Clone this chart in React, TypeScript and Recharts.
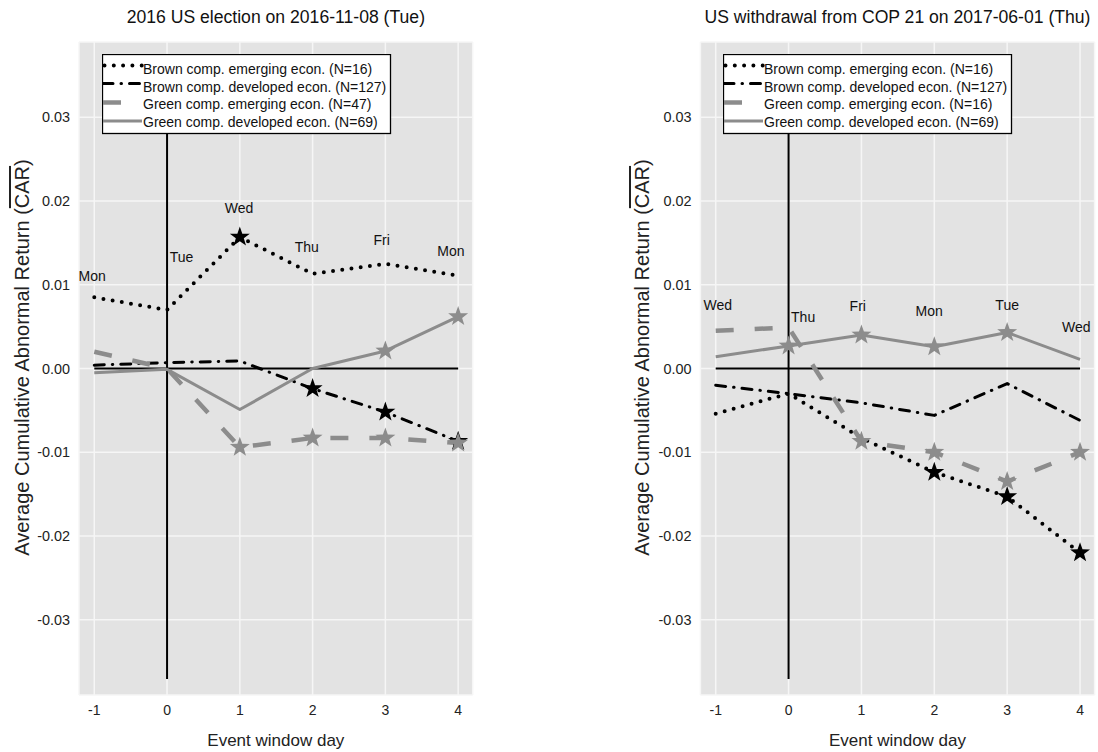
import React from 'react';
import { ComposedChart, Line, Scatter, XAxis, YAxis, CartesianGrid, ReferenceLine } from 'recharts';

const FONT = '"Liberation Sans", Arial, Helvetica, sans-serif';

// ---------- data ----------
const days = [-1, 0, 1, 2, 3, 4];
const xTicks = [-1, 0, 1, 2, 3, 4];
const yTicks = [-0.03, -0.02, -0.01, 0, 0.01, 0.02, 0.03];

// Panel 1: 2016 US election
const electionTitle = '2016 US election on 2016-11-08 (Tue)';
const electionBrownEmerging = [0.0085, 0.007, 0.0157, 0.0113, 0.0125, 0.0111];
const electionBrownDeveloped = [0.0004, 0.0007, 0.0009, -0.0024, -0.0052, -0.0087];
const electionGreenEmerging = [0.002, 0.0, -0.0094, -0.0083, -0.0083, -0.0089];
const electionGreenDeveloped = [-0.0005, -0.0001, -0.0049, 0.0, 0.0021, 0.0062];
const electionBrownEmergingStars = [false, false, true, false, false, false];
const electionBrownDevelopedStars = [false, false, false, true, true, true];
const electionGreenEmergingStars = [false, false, true, true, true, true];
const electionGreenDevelopedStars = [false, false, false, false, true, true];
const electionLegend = [
  'Brown comp. emerging econ. (N=16)',
  'Brown comp. developed econ. (N=127)',
  'Green comp. emerging econ. (N=47)',
  'Green comp. developed econ. (N=69)',
];
const electionDayNames = ['Mon', 'Tue', 'Wed', 'Thu', 'Fri', 'Mon'];
const electionDayX = [-1.03, 0.2, 0.99, 1.92, 2.95, 3.9];
const electionDayY = [0.011, 0.0133, 0.0192, 0.0145, 0.0154, 0.014];

// Panel 2: US withdrawal from COP 21
const copTitle = 'US withdrawal from COP 21 on 2017-06-01 (Thu)';
const copBrownEmerging = [-0.0054, -0.003, -0.0083, -0.0124, -0.0153, -0.022];
const copBrownDeveloped = [-0.002, -0.003, -0.0041, -0.0056, -0.0018, -0.0062];
const copGreenEmerging = [0.0045, 0.0049, -0.0087, -0.01, -0.0135, -0.01];
const copGreenDeveloped = [0.0014, 0.0027, 0.004, 0.0026, 0.0043, 0.0011];
const copBrownEmergingStars = [false, false, false, true, true, true];
const copBrownDevelopedStars = [false, false, false, false, false, false];
const copGreenEmergingStars = [false, false, true, true, true, true];
const copGreenDevelopedStars = [false, true, true, true, true, false];
const copLegend = [
  'Brown comp. emerging econ. (N=16)',
  'Brown comp. developed econ. (N=127)',
  'Green comp. emerging econ. (N=16)',
  'Green comp. developed econ. (N=69)',
];
const copDayNames = ['Wed', 'Thu', 'Fri', 'Mon', 'Tue', 'Wed'];
const copDayX = [-0.97, 0.2, 0.95, 1.93, 3.0, 3.95];
const copDayY = [0.0076, 0.0061, 0.0075, 0.0069, 0.0076, 0.0049];

// ---------- styles ----------
const GRAY = '#8c8c8c';
const seriesStyles = [
  { color: '#000', width: 4, dash: '0 9.3', cap: 'round' as const },
  { color: '#000', width: 3, dash: '10 8 0.5 8', cap: 'round' as const },
  { color: GRAY, width: 4.5, dash: '18 21', cap: 'butt' as const },
  { color: GRAY, width: 3, dash: undefined, cap: 'butt' as const },
];

const X_DOMAIN: [number, number] = [-1.21, 4.2];
const Y_DOMAIN: [number, number] = [-0.039, 0.039];

function starPath(cx: number, cy: number, R: number, r: number) {
  let d = '';
  for (let i = 0; i < 10; i++) {
    const rad = i % 2 === 0 ? R : r;
    const a = -Math.PI / 2 + (i * Math.PI) / 5;
    d += (i === 0 ? 'M' : 'L') + (cx + rad * Math.cos(a)).toFixed(2) + ',' + (cy + rad * Math.sin(a)).toFixed(2);
  }
  return d + 'Z';
}

const makeDot = (stars: boolean[], color: string, tag: string) => (props: any) => {
  const { cx, cy, index } = props;
  if (!stars[index] || cx == null || cy == null) return <g key={`${tag}-n-${index}`} />;
  return <path key={`${tag}-s-${index}`} d={starPath(cx, cy, 10.5, 4.2)} fill={color} stroke="none" />;
};

function YLabel(props: any) {
  const vb = props.viewBox || { x: 0, y: 42, width: 80, height: 653 };
  const cx = vb.x + 22;
  const cy = vb.y + vb.height / 2 - 11;
  return (
    <text
      x={cx}
      y={cy}
      transform={`rotate(-90, ${cx}, ${cy})`}
      textAnchor="middle"
      dominantBaseline="central"
      fontSize={20}
      fontFamily={FONT}
      fill="#222"
    >
      Average Cumulative Abnormal Return (<tspan style={{ textDecoration: 'overline' }}>CAR</tspan>)
    </text>
  );
}

function LegendBox({ labels }: { labels: string[] }) {
  const sampleY = [11.5, 29.5, 48.5, 67];
  const textY = [15, 32.5, 50, 67.5];
  return (
    <svg width={290} height={81} style={{ display: 'block' }}>
      <rect x={0.5} y={0.5} width={288} height={79} fill="#fff" stroke="#000" strokeWidth={1.3} />
      {labels.map((lab, i) => {
        const s = seriesStyles[i];
        return (
          <g key={i}>
            <line
              x1={i === 0 ? 2.5 : 1}
              x2={40}
              y1={sampleY[i]}
              y2={sampleY[i]}
              stroke={s.color}
              strokeWidth={s.width}
              strokeDasharray={s.dash}
              strokeLinecap={s.cap}
            />
            <text x={41} y={textY[i]} dominantBaseline="central" fontSize={14} fontFamily={FONT} fill="#111">
              {lab}
            </text>
          </g>
        );
      })}
    </svg>
  );
}

interface PanelProps {
  left: number;
  width: number;
  yAxisWidth: number;
  rightMargin: number;
  title: string;
  values: number[][];
  stars: boolean[][];
  legend: string[];
  dayNames: string[];
  dayX: number[];
  dayY: number[];
}

function Panel(p: PanelProps) {
  const plotLeft = p.yAxisWidth;
  const plotWidth = p.width - p.yAxisWidth - p.rightMargin;
  const dayData = p.dayX.map((x, i) => ({ x, y: p.dayY[i], name: p.dayNames[i] }));
  return (
    <div style={{ position: 'absolute', left: p.left, top: 0, width: p.width, height: 752 }}>
      <div
        style={{
          position: 'absolute',
          left: plotLeft,
          width: plotWidth,
          top: 6,
          lineHeight: '22px',
          textAlign: 'center',
          fontFamily: FONT,
          fontSize: 17.6,
          color: '#111',
          whiteSpace: 'nowrap',
        }}
      >
        {p.title}
      </div>
      <ComposedChart
        width={p.width}
        height={752}
        margin={{ top: 42, right: p.rightMargin, bottom: 0, left: 0 }}
      >
        <CartesianGrid fill="#e3e3e3" stroke="#f6f6f6" strokeWidth={1.5} />
        <XAxis
          type="number"
          dataKey="x"
          domain={X_DOMAIN}
          ticks={xTicks}
          allowDataOverflow
          axisLine={false}
          tickLine={false}
          tickMargin={4}
          height={57}
          tick={{ fill: '#222', fontSize: 14, fontFamily: FONT }}
          label={{ value: 'Event window day', position: 'insideBottom', offset: 6, fill: '#222', fontSize: 17, fontFamily: FONT }}
        />
        <YAxis
          type="number"
          dataKey="y"
          domain={Y_DOMAIN}
          ticks={yTicks}
          allowDataOverflow
          axisLine={false}
          tickLine={false}
          tickMargin={3}
          width={p.yAxisWidth}
          tickFormatter={(v: number) => v.toFixed(2)}
          tick={{ fill: '#222', fontSize: 14.4, fontFamily: FONT }}
          label={(lp: any) => <YLabel {...lp} />}
        />
        <ReferenceLine segment={[{ x: -1, y: 0 }, { x: 4, y: 0 }]} stroke="#000" strokeWidth={2} />
        <ReferenceLine segment={[{ x: 0, y: 0.035 }, { x: 0, y: -0.0371 }]} stroke="#000" strokeWidth={2} />
        {p.values.map((vals, si) => {
          const s = seriesStyles[si];
          const data = days.map((d, i) => ({ x: d, y: vals[i] }));
          return (
            <Line
              key={si}
              data={data}
              dataKey="y"
              type="linear"
              stroke={s.color}
              strokeWidth={s.width}
              strokeDasharray={s.dash}
              strokeLinecap={s.cap}
              strokeLinejoin="round"
              dot={makeDot(p.stars[si], s.color, `s${si}`)}
              activeDot={false}
              isAnimationActive={false}
            />
          );
        })}
        <Scatter
          data={dayData}
          isAnimationActive={false}
          shape={(sp: any) => (
            <text
              x={sp.cx}
              y={sp.cy}
              textAnchor="middle"
              dominantBaseline="central"
              fontSize={14}
              fontFamily={FONT}
              fill="#111"
            >
              {sp.payload.name}
            </text>
          )}
        />
      </ComposedChart>
      <div style={{ position: 'absolute', left: plotLeft + 23, top: 54 }}>
        <LegendBox labels={p.legend} />
      </div>
    </div>
  );
}

export default function App() {
  return (
    <div style={{ position: 'absolute', left: 0, top: 0, width: 1098, height: 752, background: '#fff' }}>
      <Panel
        left={0}
        width={480}
        yAxisWidth={79}
        rightMargin={7.3}
        title={electionTitle}
        values={[electionBrownEmerging, electionBrownDeveloped, electionGreenEmerging, electionGreenDeveloped]}
        stars={[electionBrownEmergingStars, electionBrownDevelopedStars, electionGreenEmergingStars, electionGreenDevelopedStars]}
        legend={electionLegend}
        dayNames={electionDayNames}
        dayX={electionDayX}
        dayY={electionDayY}
      />
      <Panel
        left={620}
        width={478}
        yAxisWidth={80.4}
        rightMargin={3.4}
        title={copTitle}
        values={[copBrownEmerging, copBrownDeveloped, copGreenEmerging, copGreenDeveloped]}
        stars={[copBrownEmergingStars, copBrownDevelopedStars, copGreenEmergingStars, copGreenDevelopedStars]}
        legend={copLegend}
        dayNames={copDayNames}
        dayX={copDayX}
        dayY={copDayY}
      />
    </div>
  );
}
